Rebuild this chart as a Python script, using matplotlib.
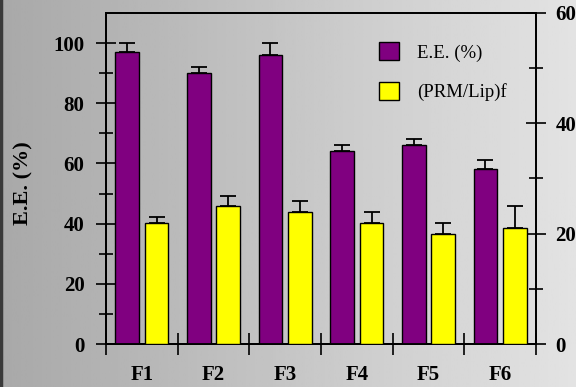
import numpy as np
import matplotlib
matplotlib.use("Agg")
import matplotlib.pyplot as plt
from matplotlib.patches import Patch
from matplotlib.ticker import MultipleLocator, FixedLocator

formulas = ["F1", "F2", "F3", "F4", "F5", "F6"]
ee = [97, 90, 96, 64, 66, 58]
ee_err = [3, 2, 4, 2, 2, 3]
prm_lip = [22, 25, 24, 22, 20, 21]
prm_lip_err = [1, 1.9, 2, 2, 2, 4]

plt.rcParams['font.family'] = ['Liberation Serif', 'DejaVu Serif']

fig = plt.figure(figsize=(5.76, 3.87), dpi=100)

# grey gradient background
bg = fig.add_axes([0, 0, 1, 1], zorder=-10)
grad = np.linspace(0.66, 0.89, 256).reshape(1, -1)
bg.imshow(grad, cmap='gray', vmin=0, vmax=1, aspect='auto', extent=[0, 1, 0, 1])
bg.axvline(0.002, color='#3a3a3a', lw=2.5)
bg.set_xlim(0, 1)
bg.set_ylim(0, 1)
bg.axis('off')

ax = fig.add_axes([106/576, 43/387, 430/576, 331/387])
ax.patch.set_alpha(0)
ax2 = ax.twinx()

x = np.arange(len(formulas))
w = 0.33
off = 0.205

ax.bar(x - off, ee, w, color='#800080', edgecolor='black', lw=1, zorder=3)
ax.errorbar(x - off, ee, yerr=[np.zeros(len(ee)), ee_err], fmt='none',
            ecolor='black', elinewidth=1.3, capsize=6, capthick=1.3, zorder=2)
ax2.bar(x + off, prm_lip, w, color='#ffff00', edgecolor='black', lw=1, zorder=3)
ax2.errorbar(x + off, prm_lip, yerr=[np.zeros(len(prm_lip)), prm_lip_err], fmt='none',
             ecolor='black', elinewidth=1.3, capsize=6, capthick=1.3, zorder=2)

ax.set_xlim(-0.5, len(formulas) - 0.5)
ax.set_ylim(0, 110)
ax2.set_ylim(0, 60)

ax.yaxis.set_major_locator(FixedLocator([0, 20, 40, 60, 80, 100]))
ax.yaxis.set_minor_locator(FixedLocator([10, 30, 50, 70, 90]))
ax2.yaxis.set_major_locator(MultipleLocator(20))
ax2.yaxis.set_minor_locator(MultipleLocator(10))

ax.set_xticks(np.arange(-0.5, len(formulas), 1.0))
ax.set_xticklabels([])
ax.set_xticks(x, minor=True)
ax.set_xticklabels(formulas, minor=True, fontsize=15, fontweight='bold')
ax.tick_params(axis='x', which='major', direction='inout', length=16, width=1.2)
ax.tick_params(axis='x', which='minor', length=0, pad=15)

ax.tick_params(axis='y', which='major', direction='inout', length=15, width=1.2,
               labelsize=15, pad=8)
ax.tick_params(axis='y', which='minor', direction='inout', length=10, width=1.2)
ax2.tick_params(axis='y', which='major', direction='inout', length=15, width=1.2,
                labelsize=15, pad=6.5)
ax2.tick_params(axis='y', which='minor', direction='inout', length=10, width=1.2)
for lbl in ax.get_yticklabels() + ax2.get_yticklabels():
    lbl.set_fontweight('bold')

for a in (ax, ax2):
    for s in a.spines.values():
        s.set_linewidth(1.3)
        s.set_color('black')

ax.set_ylabel("E.E. (%)", fontsize=16, fontweight='bold')
ax.yaxis.set_label_coords(-73/430, 0.485)

handles = [Patch(facecolor='#800080', edgecolor='black', lw=1),
           Patch(facecolor='#ffff00', edgecolor='black', lw=1)]
ax2.legend(handles, ["E.E. (%)", "(PRM/Lip)f"], loc='upper left',
           bbox_to_anchor=(265/430, 1 - 22/331), frameon=False, fontsize=13.5,
           handlelength=1.1, handleheight=1.1, handletextpad=0.95,
           labelspacing=1.05, borderaxespad=0)

fig.savefig("out.png", dpi=100)
